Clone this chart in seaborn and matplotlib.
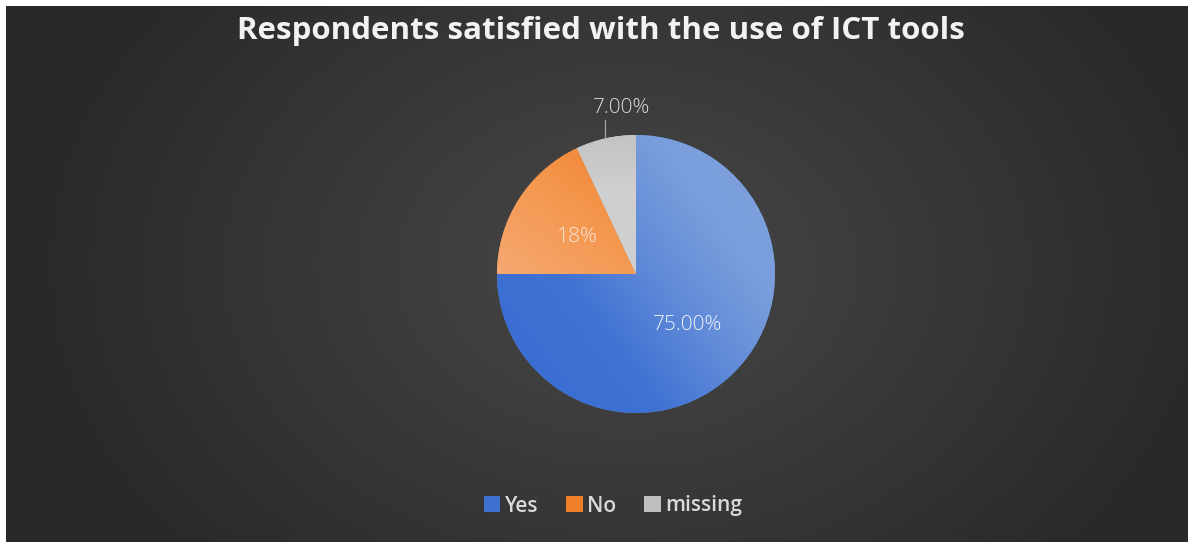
import numpy as np
import matplotlib
matplotlib.use("Agg")
import matplotlib.pyplot as plt
from matplotlib.patches import Patch
from matplotlib.colors import LinearSegmentedColormap
import seaborn as sns

# Survey answers
categories = ["Yes", "No", "missing"]
shares = [75.0, 18.0, 7.0]
value_labels = ["75.00%", "18%", "7.00%"]
title = "Respondents satisfied with the use of ICT tools"

sns.set_theme(style="dark")
plt.rcParams["font.family"] = ["Open Sans", "DejaVu Sans"]

W, H, DPI = 1188, 542, 100
fig = plt.figure(figsize=(W / DPI, H / DPI), dpi=DPI, facecolor="white")

# Dark radial-gradient chart area (white margin on the left and top)
bg = fig.add_axes([6 / W, 0, 1 - 6 / W, 1 - 6 / H])
bg.set_axis_off()
yy, xx = np.mgrid[0:536, 0:1182]
cx, cy = 620, 260
d = np.sqrt(((xx - cx) / 700.0) ** 2 + ((yy - cy) / 520.0) ** 2)
d = np.clip(d / 0.85, 0, 1)
inner, outer = np.array([0x48, 0x48, 0x48]) / 255, np.array([0x29, 0x29, 0x29]) / 255
img = inner[None, None, :] * (1 - d[..., None]) + outer[None, None, :] * d[..., None]
bg.imshow(img, aspect="auto", extent=[0, 1, 0, 1], origin="upper")
bg.set_xlim(0, 1)
bg.set_ylim(0, 1)

# Pie axes: centre (636, 274) px, radius 139 px
R = 139
pcx, pcy = 636, 274
ax = fig.add_axes([(pcx - R) / W, (H - pcy - R) / H, 2 * R / W, 2 * R / H])
ax.set_axis_off()
ax.set_xlim(-1, 1)
ax.set_ylim(-1, 1)

base_colors = ["#5a86d6", "#f28d45", "#c9c9c9"]
wedges, _ = ax.pie(shares, colors=base_colors, startangle=90, counterclock=False,
                   radius=1.0, wedgeprops=dict(linewidth=0))

# Gradient fills clipped to each wedge
gy, gx = np.mgrid[1:-1:400j, -1:1:400j]
grad_specs = [
    (["#3a6ed2", "#3f72d3", "#5f8ad8", "#7a9edc", "#7ea1dc"],
     (gx * 1.0 + gy * 0.75) / 1.75 * 0.62 + 0.45),
    (["#f6a872", "#f4984f", "#f07f2c"], ((gx + 1) * 0.6 + (gy) * 0.8) / 1.4),
    (["#cfcfcf", "#c3c3c3"], (gy - 0.6) / 0.4),
]
for w, (cols, t) in zip(wedges, grad_specs):
    cmap = LinearSegmentedColormap.from_list("g", cols)
    im = ax.imshow(np.clip(t, 0, 1), cmap=cmap, vmin=0, vmax=1,
                   extent=[-1, 1, -1, 1], zorder=w.get_zorder() + 0.1)
    im.set_clip_path(w)
ax.set_xlim(-1, 1)
ax.set_ylim(-1, 1)

# Value labels: the two large slices inside, the small one outside with a leader line
label_colors = ["#eef2fa", "#fbe3d2", "#d9d9d9"]
inside = [0.52, 0.50]
for w, txt, dist, col in zip(wedges[:2], value_labels[:2], inside, label_colors[:2]):
    ang = np.deg2rad((w.theta1 + w.theta2) / 2)
    ax.text(dist * np.cos(ang), dist * np.sin(ang), txt, ha="center", va="center",
            fontsize=15, color=col, fontweight="light", zorder=10)

w = wedges[2]
ang = np.deg2rad((w.theta1 + w.theta2) / 2)
lx = np.cos(ang) * 1.02
ax.plot([lx, lx], [np.sin(ang) * 1.0, 1.11], color="#a6a6a6", lw=0.9,
        clip_on=False, zorder=9)
ax.text(lx + 0.12, 1.195, value_labels[2], ha="center", va="center", fontsize=15,
        color=label_colors[2], fontweight="light", clip_on=False, zorder=10)

fig.text(0.506, 1 - 31 / H, title, ha="center", va="center", fontsize=22.5,
         fontweight="bold", color="#f2f2f2")

handles = [Patch(facecolor=c, edgecolor="none") for c in ["#3e70d0", "#f07f2a", "#bfbfbf"]]
leg = fig.legend(handles, categories, loc="center", bbox_to_anchor=(613 / W, 1 - 506 / H),
                 ncol=3, frameon=False, fontsize=15, handlelength=0.8, handleheight=0.8,
                 handletextpad=0.2, columnspacing=1.35,
                 prop=dict(size=15, weight="semibold"))
for t in leg.get_texts():
    t.set_color("#d9d9d9")

fig.savefig("out.png", dpi=DPI, facecolor=fig.get_facecolor())
